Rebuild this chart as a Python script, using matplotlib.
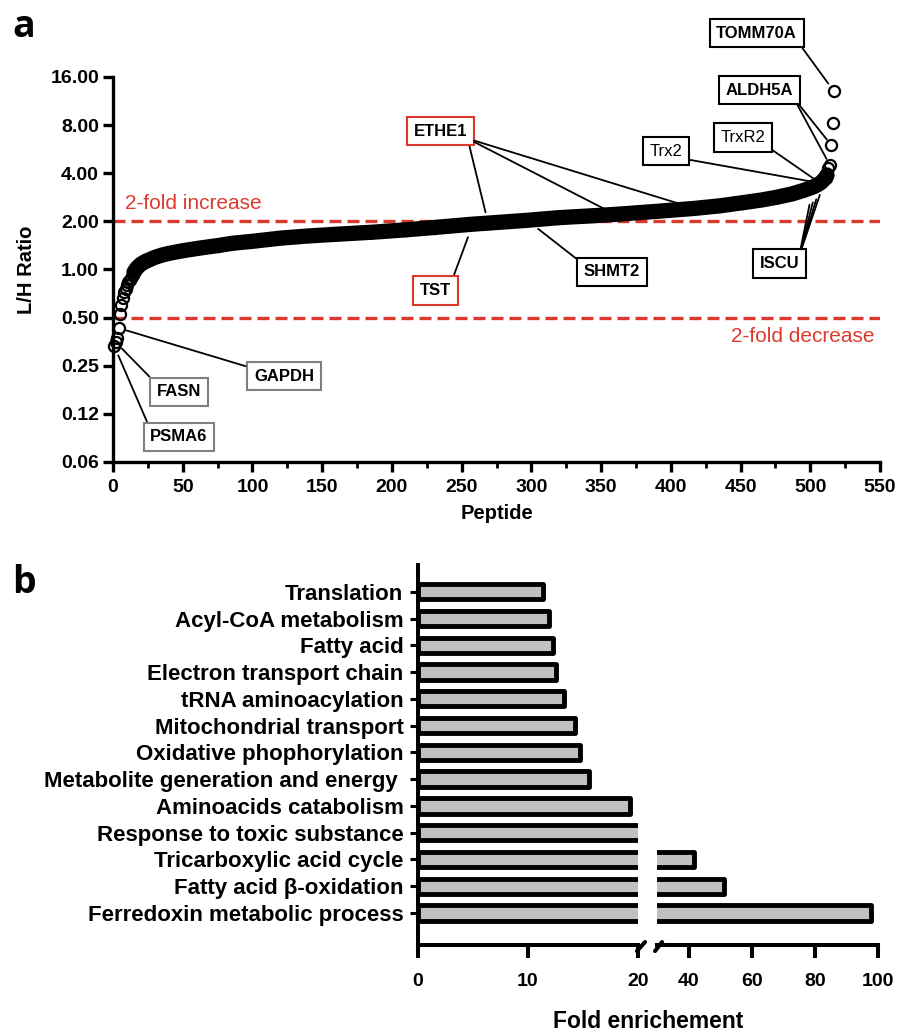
import matplotlib
matplotlib.use('Agg')
import matplotlib.pyplot as plt
import numpy as np

# ---- panel a: peptides ranked by L/H ratio ----
peptide = [1, 2, 3, 4, 5, 6, 7, 8, 9, 10, 11, 12, 13, 14, 15, 17, 20, 23, 26, 30,
           35, 40, 50, 62, 75, 86, 100, 120, 140, 160, 186, 210, 230, 258, 269,
           297, 320, 345, 360, 390, 417, 435, 452, 465, 476, 487, 495, 502, 505,
           507, 508, 511, 512, 513, 514, 515, 516, 517]
ratio = [0.33, 0.35, 0.37, 0.43, 0.53, 0.60, 0.66, 0.72, 0.76, 0.80, 0.83, 0.86,
         0.89, 0.93, 0.96, 1.02, 1.08, 1.12, 1.15, 1.19, 1.23, 1.26, 1.31, 1.36,
         1.41, 1.46, 1.50, 1.57, 1.62, 1.66, 1.71, 1.77, 1.83, 1.92, 1.95, 2.03,
         2.11, 2.17, 2.21, 2.31, 2.41, 2.50, 2.62, 2.72, 2.83, 2.97, 3.12, 3.28,
         3.38, 3.47, 3.52, 3.75, 3.90, 4.3, 4.5, 6.0, 8.2, 13.0]

yticks_a = [0.0625, 0.125, 0.25, 0.5, 1, 2, 4, 8, 16]
yticklabels_a = ['0.06', '0.12', '0.25', '0.50', '1.00', '2.00', '4.00', '8.00', '16.00']

# labelled proteins and the peptide ranks their leader lines point at
tag_names = ['TOMM70A', 'ALDH5A', 'TrxR2', 'Trx2', 'ETHE1', 'TST', 'SHMT2',
             'ISCU', 'GAPDH', 'FASN', 'PSMA6']
tag_targets = [[517], [515, 514], [507], [507], [269, 360, 417], [258], [297],
               [502, 505, 508, 511], [4], [2], [1]]

# ---- panel b: enrichment ----
categories = ['Translation', 'Acyl-CoA metabolism', 'Fatty acid',
              'Electron transport chain', 'tRNA aminoacylation',
              'Mitochondrial transport', 'Oxidative phophorylation',
              'Metabolite generation and energy ', 'Aminoacids catabolism',
              'Response to toxic substance', 'Tricarboxylic acid cycle',
              'Fatty acid \u03b2-oxidation', 'Ferredoxin metabolic process']
fold = [11.4, 11.9, 12.3, 12.5, 13.3, 14.3, 14.7, 15.5, 19.3, 25.0, 41.6, 51.2, 97.8]

red = '#dc3a2e'
arial = ['Liberation Sans', 'DejaVu Sans']

fig = plt.figure(figsize=(8.99, 10.36), dpi=100)

# ================= panel a =================
ax = fig.add_axes([0.1257, 0.5541, 0.8532, 0.3716])
ax.set_yscale('log', base=2)
ax.set_xlim(0, 550)
ax.set_ylim(0.0625, 16)

ax.axhline(2, color=red, lw=2.4, dashes=(3.6, 1.8), zorder=1)
ax.axhline(0.5, color=red, lw=2.4, dashes=(3.6, 1.8), zorder=1)

# dense middle of the ranking drawn as a thick band, ends as open circles
band_x = [p for p in peptide if 15 <= p <= 512]
band_y = [r for p, r in zip(peptide, ratio) if 15 <= p <= 512]
ax.plot(band_x, band_y, color='black', lw=11, solid_capstyle='round', zorder=3)
ax.plot(peptide, ratio, ls='none', marker='o', ms=8, mfc='none', mec='black',
        mew=1.6, clip_on=False, zorder=3)

ax.text(8.6, 2.59, '2-fold increase', color=red, fontsize=15, family=arial,
        ha='left', va='center')
ax.text(546, 0.38, '2-fold decrease', color=red, fontsize=15, family=arial,
        ha='right', va='center')

# box positions (data coords), edge colours, weights, line shrink, line origin
tag_pos = [(461.6, 30.0), (463.8, 13.2), (451.6, 6.68), (396.8, 5.5), (235.1, 7.34),
           (231.2, 0.738), (357.7, 0.965), (477.8, 1.09), (122.6, 0.215),
           (47.3, 0.172), (47.3, 0.0897)]
tag_edge = ['black', 'black', 'black', 'black', red, red, 'black', 'black',
            '#808080', '#808080', '#808080']
tag_weight = ['bold', 'bold', 'normal', 'normal', 'bold', 'bold', 'bold', 'bold',
              'bold', 'bold', 'bold']
tag_shrink = [7, 5, 2, 2, 8, 10, 10, 13, 6, 6, 7]
tag_rel = [(1, 0), (1, 0), (1, 0), (1, 0), (1, 0), (1, 1), (0, 1), (1, 1),
           (0, 1), (0, 1), (0, 1)]

for name, targets, pos, ec, wt, sh, rel in zip(tag_names, tag_targets, tag_pos,
                                               tag_edge, tag_weight, tag_shrink,
                                               tag_rel):
    for i, p in enumerate(targets):
        r = ratio[peptide.index(p)]
        first = i == 0
        ax.annotate(name, xy=(p, r), xytext=pos, textcoords='data',
                    ha='center', va='center', fontsize=12, fontweight=wt,
                    family=arial, color='black' if first else 'none',
                    bbox=dict(boxstyle='square,pad=0.4',
                              fc='white' if first else 'none',
                              ec=ec if first else 'none', lw=1.5),
                    arrowprops=dict(arrowstyle='-', color='black', lw=1.3,
                                    shrinkA=0, shrinkB=sh, relpos=rel),
                    annotation_clip=False, zorder=5)

ax.spines['top'].set_visible(False)
ax.spines['right'].set_visible(False)
ax.spines['left'].set_linewidth(2.4)
ax.spines['bottom'].set_linewidth(2.4)
ax.set_yticks(yticks_a)
ax.set_yticklabels(yticklabels_a)
ax.yaxis.set_minor_locator(matplotlib.ticker.NullLocator())
ax.set_xticks(np.arange(0, 551, 50))
ax.set_xticks(np.arange(25, 551, 50), minor=True)
ax.tick_params(axis='both', which='major', direction='out', length=7, width=2.4,
               labelsize=14, pad=3)
ax.tick_params(axis='x', which='minor', direction='out', length=4, width=2.0)
ax.tick_params(axis='x', which='major', pad=5)
for lab in ax.get_xticklabels() + ax.get_yticklabels():
    lab.set_fontweight('bold')
    lab.set_family(arial)
ax.set_xlabel('Peptide', fontsize=14.5, fontweight='bold', family=arial, labelpad=6)
ax.set_ylabel('L/H Ratio', fontsize=14.5, fontweight='bold', family=arial, labelpad=10)

# ================= panel b =================
ypos = np.arange(len(categories))[::-1]
axl = fig.add_axes([0.4650, 0.0878, 0.2447, 0.3668])
axr = fig.add_axes([0.7308, 0.0878, 0.2458, 0.3668])
for a in (axl, axr):
    a.barh(ypos, fold, height=0.57, color='#c0c0c0', edgecolor='black', lw=3.5,
           joinstyle='round')
    a.set_ylim(-1.2, 13.0)
    a.spines['top'].set_visible(False)
    a.spines['right'].set_visible(False)
    a.spines['bottom'].set_linewidth(2.9)
    a.tick_params(axis='x', direction='out', length=9, width=2.9, labelsize=14, pad=11)
axl.set_xlim(0, 20)
axr.set_xlim(30, 100)
axl.set_xticks([0, 10, 20])
axr.set_xticks([40, 60, 80, 100])
axl.spines['left'].set_linewidth(2.9)
axr.spines['left'].set_visible(False)
axr.set_yticks([])
axl.set_yticks(ypos)
axl.set_yticklabels(categories)
axl.tick_params(axis='y', direction='out', length=5.5, width=2.2, labelsize=16, pad=5)
for lab in axl.get_xticklabels() + axr.get_xticklabels() + axl.get_yticklabels():
    lab.set_fontweight('bold')
    lab.set_family(arial)

# axis break marks
axl.plot([0.995, 1.032], [-0.016, 0.008], transform=axl.transAxes, color='black',
         lw=2.9, clip_on=False, solid_capstyle='round')
axr.plot([-0.009, 0.023], [-0.016, 0.008], transform=axr.transAxes, color='black',
         lw=2.9, clip_on=False, solid_capstyle='round')

fig.text(648 / 899, 1 - 1022 / 1036, 'Fold enrichement', ha='center', va='center',
         fontsize=16.5, fontweight='bold', family=arial)

fig.text(12 / 899, 1 - 37 / 1036, 'a', fontsize=27, fontweight='bold',
         family=['Open Sans', 'DejaVu Sans'], ha='left', va='baseline')
fig.text(12 / 899, 1 - 593 / 1036, 'b', fontsize=27, fontweight='bold',
         family=['Open Sans', 'DejaVu Sans'], ha='left', va='baseline')

fig.savefig('out.png', dpi=100)
